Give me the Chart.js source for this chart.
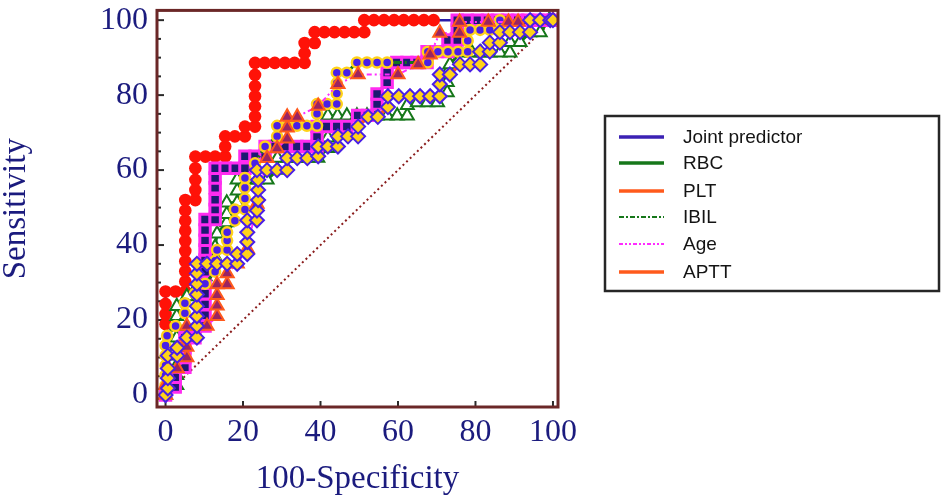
<!DOCTYPE html>
<html>
<head>
<meta charset="utf-8">
<script src="https://cdn.jsdelivr.net/npm/chart.js@4.4.1/dist/chart.umd.min.js"></script>
<style>
  html, body { margin: 0; padding: 0; background: #fff; }
  #wrap { width: 945px; height: 501px; }
</style>
</head>
<body>
<div id="wrap"><canvas id="roc" width="945" height="501"></canvas></div>
<script>
// tick labels
const xTicks = [0, 20, 40, 60, 80, 100];
const yTicks = [0, 20, 40, 60, 80, 100];

// Joint predictor (red circles)
const jointX = [0, 0, 0, 0, 0, 2.6, 5.1, 5.1, 5.1, 5.1, 5.1, 5.1, 5.1, 5.1, 5.1, 5.1, 7.7, 7.7, 7.7, 7.7, 7.7, 10.3, 12.8, 15.4, 15.4, 15.4, 17.9, 20.5, 20.5, 23.1, 23.1, 23.1, 23.1, 23.1, 23.1, 23.1, 25.6, 28.2, 30.8, 33.3, 35.9, 35.9, 35.9, 38.5, 38.5, 41.0, 43.6, 46.2, 48.7, 51.3, 51.3, 53.8, 56.4, 59.0, 61.5, 64.1, 66.7, 69.2, 100];
const jointY = [0, 18.9, 21.6, 24.3, 27.6, 27.6, 27.6, 30.3, 33.0, 35.7, 38.4, 41.1, 43.8, 46.5, 49.2, 52.0, 52.0, 54.7, 57.4, 60.5, 63.6, 63.6, 63.6, 63.6, 66.3, 69.0, 69.0, 69.0, 71.6, 71.6, 74.3, 77.0, 79.7, 82.4, 85.4, 88.6, 88.6, 88.6, 88.6, 88.6, 88.6, 91.2, 93.9, 93.9, 96.8, 96.8, 96.8, 96.8, 96.8, 96.8, 100, 100, 100, 100, 100, 100, 100, 100, 100];

// RBC (open green triangles)
const rbcX = [0, 2.9, 2.9, 2.9, 2.9, 2.9, 2.9, 2.9, 2.9, 2.9, 5.5, 8.1, 10.2, 10.2, 12.8, 12.8, 13.3, 15.8, 15.8, 15.8, 18.5, 18.5, 18.5, 21.0, 23.6, 26.2, 28.9, 28.9, 31.5, 34.1, 36.7, 39.3, 41.9, 41.9, 41.9, 41.9, 44.4, 46.8, 49.4, 52.0, 54.6, 57.2, 59.8, 62.4, 62.4, 65.0, 67.6, 70.2, 72.7, 72.7, 72.7, 73.4, 76.0, 79.1, 81.4, 83.7, 86.3, 88.9, 88.9, 91.5, 94.1, 96.7, 99.0, 100];
const rbcY = [0, 2.6, 5.3, 7.9, 10.5, 13.1, 15.3, 18.4, 21.0, 23.7, 26.3, 28.9, 31.6, 34.2, 36.8, 39.5, 43.0, 46.0, 48.2, 51.3, 51.3, 54.5, 57.4, 57.4, 57.4, 57.4, 60.0, 63.2, 63.2, 63.2, 63.2, 63.2, 65.8, 68.6, 71.5, 74.5, 74.5, 74.5, 74.5, 74.5, 74.5, 74.5, 74.5, 74.5, 77.3, 78.0, 78.0, 78.0, 80.7, 83.4, 86.0, 88.2, 91.3, 91.3, 91.3, 91.3, 91.3, 91.3, 94.1, 94.1, 96.7, 96.7, 100, 100];

// PLT (magenta squares)
const pltX = [0, 2.5, 2.5, 5.0, 5.0, 5.0, 5.0, 7.6, 10.2, 10.2, 10.2, 10.2, 10.2, 10.2, 10.2, 10.2, 10.2, 10.2, 10.2, 12.8, 12.8, 12.8, 12.8, 12.8, 12.8, 15.4, 18.0, 20.5, 20.5, 23.1, 25.7, 25.7, 28.3, 30.8, 33.9, 36.5, 39.1, 39.1, 39.1, 41.6, 44.2, 46.8, 49.6, 52.1, 54.6, 54.6, 57.2, 57.2, 59.7, 62.3, 64.9, 67.5, 67.5, 70.1, 72.9, 72.9, 75.3, 75.3, 75.3, 77.9, 80.5, 83.1, 85.7, 88.3, 90.9, 93.5, 96.1, 98.7, 100];
const pltY = [0, 2.1, 4.7, 7.4, 10.0, 12.6, 15.3, 15.3, 18.4, 21.3, 24.2, 27.0, 30.3, 32.9, 36.0, 38.7, 41.3, 44.0, 46.8, 46.8, 49.5, 52.1, 55.3, 57.9, 60.5, 60.5, 60.5, 60.5, 63.7, 63.7, 63.7, 66.3, 66.3, 66.3, 66.3, 66.3, 66.3, 69.0, 71.6, 71.6, 71.6, 71.6, 74.6, 74.6, 77.6, 80.3, 83.4, 86.0, 88.7, 88.7, 88.7, 88.7, 91.6, 91.6, 91.6, 94.7, 94.7, 97.4, 100, 100, 100, 100, 100, 100, 100, 100, 100, 100, 100];

// IBIL (blue circles, yellow rim)
const ibilX = [0, 0, 0, 0, 0, 0, 0.4, 2.6, 5.0, 5.0, 7.6, 10.2, 12.8, 12.8, 13.3, 15.9, 15.9, 15.9, 17.9, 17.9, 20.5, 20.5, 20.5, 20.5, 23.1, 25.7, 28.8, 28.8, 31.4, 33.9, 36.5, 39.1, 39.1, 39.1, 41.7, 44.2, 44.2, 44.2, 44.2, 46.8, 49.4, 52.0, 54.6, 57.2, 67.7, 67.7, 70.3, 72.9, 75.5, 78.0, 78.0, 78.6, 81.2, 83.7, 86.3, 86.3, 100];
const ibilY = [0, 2.6, 5.3, 7.9, 10.5, 13.2, 15.8, 18.4, 21.8, 24.5, 27.1, 29.7, 32.9, 35.8, 38.7, 38.7, 41.2, 43.4, 46.5, 49.5, 49.5, 52.4, 55.3, 57.9, 61.8, 66.3, 69.0, 71.8, 71.8, 71.8, 71.8, 71.8, 75.0, 77.6, 77.6, 77.6, 80.4, 83.2, 86.0, 86.0, 88.7, 88.7, 88.7, 88.7, 88.7, 91.6, 91.6, 91.6, 91.6, 91.6, 94.5, 97.4, 97.4, 97.4, 97.4, 100, 100];

// Age (orange-rimmed dark red triangles)
const ageX = [0, 0, 3.0, 5.5, 5.5, 5.5, 5.5, 8.1, 10.7, 13.3, 13.3, 13.3, 13.3, 15.9, 15.9, 18.5, 21.1, 23.6, 26.2, 28.8, 31.4, 31.4, 31.4, 34.0, 39.4, 44.5, 49.7, 60.0, 65.2, 68.3, 70.8, 75.9, 75.9, 83.3, 88.5, 91.0, 100];
const ageY = [0, 2.6, 7.1, 10.0, 12.8, 15.6, 18.4, 18.4, 18.4, 21.0, 23.8, 26.6, 29.5, 29.5, 32.4, 35.0, 39.0, 51.0, 63.2, 65.8, 68.4, 71.3, 74.2, 74.2, 77.1, 82.9, 85.5, 85.5, 88.2, 90.8, 96.6, 96.6, 99.5, 99.5, 99.5, 99.5, 100];

// APTT (yellow diamonds)
const apttX = [0, 0.6, 0.6, 0.6, 0.6, 3.0, 3.0, 5.5, 8.1, 8.1, 8.1, 8.1, 8.1, 8.1, 8.1, 8.1, 10.7, 13.3, 15.9, 18.5, 18.5, 21.1, 21.1, 21.1, 21.1, 23.6, 23.6, 23.9, 23.9, 23.9, 23.6, 26.2, 28.8, 31.4, 31.4, 34.0, 36.6, 39.4, 39.4, 41.9, 44.5, 44.5, 47.1, 49.7, 49.7, 52.3, 54.8, 57.4, 57.4, 60.2, 63.1, 65.7, 68.3, 70.8, 70.8, 70.8, 73.4, 76.0, 78.6, 81.2, 81.2, 83.7, 83.7, 86.3, 86.3, 88.9, 91.5, 94.1, 94.1, 96.7, 99.3, 100];
const apttY = [0, 1.8, 4.5, 7.1, 10.5, 10.5, 12.6, 15.3, 15.3, 18.4, 21.0, 23.7, 26.8, 29.6, 32.4, 35.0, 35.0, 35.0, 35.0, 35.0, 37.6, 37.6, 40.8, 43.4, 46.6, 46.6, 49.2, 52.0, 54.7, 57.4, 60.0, 60.0, 60.0, 60.0, 63.2, 63.2, 63.2, 63.7, 66.3, 66.3, 66.3, 69.0, 69.0, 69.0, 71.6, 74.2, 74.2, 76.8, 79.7, 79.7, 79.7, 79.7, 79.7, 79.7, 82.9, 85.5, 85.5, 88.2, 88.2, 88.2, 91.6, 91.6, 94.0, 94.0, 96.8, 96.8, 96.8, 96.8, 100, 100, 100, 100];

// reference diagonal
const diagX = [0, 100];
const diagY = [0, 100];

const pts = (xs, ys) => xs.map((x, i) => ({ x: x, y: ys[i] }));
const navyText = '#1b1b7e';
const serif = 'Liberation Serif, Times New Roman, serif';

const tickPlugin = {
  id: 'innerTicks',
  beforeDatasetsDraw(chart) {
    const { ctx, chartArea: a, scales } = chart;
    ctx.save();
    ctx.strokeStyle = '#2a2a2a';
    ctx.lineWidth = 2;
    for (let v = 0; v <= 100; v += 5) {
      const py = scales.y.getPixelForValue(v);
      const len = v % 20 === 0 ? 7 : 4;
      ctx.beginPath(); ctx.moveTo(a.left, py); ctx.lineTo(a.left + len, py); ctx.stroke();
    }
    xTicks.forEach(v => {
      const px = scales.x.getPixelForValue(v);
      ctx.beginPath(); ctx.moveTo(px, a.bottom); ctx.lineTo(px, a.bottom - 6); ctx.stroke();
    });
    ctx.restore();
  },
  afterDatasetsDraw(chart) {
    const { ctx, chartArea: a } = chart;
    ctx.save();
    ctx.strokeStyle = '#6b2727';
    ctx.lineWidth = 3;
    ctx.strokeRect(a.left, a.top, a.right - a.left, a.bottom - a.top);
    ctx.restore();
  }
};

const legendPlugin = {
  id: 'boxLegend',
  afterDraw(chart) {
    const ctx = chart.ctx;
    const rows = [137, 163, 191, 217, 244, 272];
    ctx.save();
    ctx.strokeStyle = '#262626';
    ctx.lineWidth = 2.5;
    ctx.strokeRect(605, 116, 334, 175);
    chart.data.datasets.slice(0, 6).forEach((ds, i) => {
      const y = rows[i];
      ctx.beginPath();
      ctx.setLineDash(ds.legendDash || []);
      ctx.lineWidth = ds.legendDash ? 2 : 3.5;
      ctx.strokeStyle = ds.legendColor || ds.borderColor;
      ctx.moveTo(619, y); ctx.lineTo(664, y);
      ctx.stroke();
      ctx.setLineDash([]);
      ctx.fillStyle = '#141414';
      ctx.font = '19px Liberation Sans, Arial, sans-serif';
      ctx.textBaseline = 'middle';
      ctx.fillText(ds.label, 683, y + 1);
    });
    ctx.restore();
  }
};

new Chart(document.getElementById('roc'), {
  type: 'scatter',
  data: {
    datasets: [
      { label: 'Joint predictor', data: pts(jointX, jointY), showLine: true, order: 6,
        borderColor: '#2a1aa8', legendColor: '#3b22b4', borderWidth: 2.5,
        pointStyle: 'circle', pointRadius: 6.3, pointBackgroundColor: '#ff1208', pointBorderColor: '#ff1208', pointBorderWidth: 0 },
      { label: 'RBC', data: pts(rbcX, rbcY), showLine: true, order: 5,
        borderColor: '#16771a', borderWidth: 3,
        pointStyle: 'triangle', pointRadius: 7.5, pointBackgroundColor: '#ffffff', pointBorderColor: '#16771a', pointBorderWidth: 2 },
      { label: 'PLT', data: pts(pltX, pltY), showLine: true, order: 4,
        borderColor: '#ff5a1c', borderWidth: 3.5,
        pointStyle: 'rect', pointRadius: 7.4, pointBackgroundColor: '#1d1a72', pointBorderColor: '#ff2cf0', pointBorderWidth: 3 },
      { label: 'IBIL', data: pts(ibilX, ibilY), showLine: true, order: 3,
        borderColor: '#16771a', borderWidth: 3, borderDash: [8, 3, 2, 3], legendDash: [5, 2, 2, 2],
        pointStyle: 'circle', pointRadius: 5, pointBackgroundColor: '#4a1fe6', pointBorderColor: '#ffd21a', pointBorderWidth: 2.5 },
      { label: 'Age', data: pts(ageX, ageY), showLine: true, order: 2,
        borderColor: '#ff2cff', borderWidth: 2, borderDash: [5, 3, 2, 3, 2, 3], legendDash: [4, 2, 2, 2, 2, 2],
        pointStyle: 'triangle', pointRadius: 7.6, pointBackgroundColor: '#9a2462', pointBorderColor: '#ff5a1c', pointBorderWidth: 2 },
      { label: 'APTT', data: pts(apttX, apttY), showLine: true, order: 1,
        borderColor: '#ff5a1c', borderWidth: 3.5,
        pointStyle: 'rectRot', pointRadius: 7, pointBackgroundColor: '#ffd21a', pointBorderColor: '#4a1fe6', pointBorderWidth: 2 },
      { label: 'Reference', data: pts(diagX, diagY), showLine: true, order: 7,
        borderColor: '#8a1c1c', borderWidth: 2, borderDash: [2, 3], pointRadius: 0 }
    ]
  },
  options: {
    responsive: false,
    animation: false,
    layout: { padding: { left: 0, top: 5, right: 387, bottom: 0 } },
    plugins: { legend: { display: false }, tooltip: { enabled: false } },
    scales: {
      x: {
        type: 'linear', min: -2.2, max: 101.3,
        afterBuildTicks: s => { s.ticks = xTicks.map(v => ({ value: v })); },
        afterFit: s => { s.height = 94; s.paddingLeft = 0; s.paddingRight = 0; },
        grid: { display: false, drawTicks: false },
        border: { display: false },
        ticks: { color: navyText, font: { family: serif, size: 32 }, padding: 6, maxRotation: 0, autoSkip: false },
        title: { display: true, text: '100-Specificity', color: navyText,
                 font: { family: serif, size: 33, lineHeight: 1 }, padding: { top: 0, bottom: 5 } }
      },
      y: {
        type: 'linear', min: -3.2, max: 102.6,
        afterBuildTicks: s => { s.ticks = yTicks.map(v => ({ value: v })); },
        afterFit: s => { s.width = 157; s.paddingTop = 0; s.paddingBottom = 0; },
        grid: { display: false, drawTicks: false },
        border: { display: false },
        ticks: { color: navyText, font: { family: serif, size: 32 }, padding: 9, autoSkip: false },
        title: { display: true, text: 'Sensitivity', color: navyText,
                 font: { family: serif, size: 33, lineHeight: 1 }, padding: 0 }
      }
    }
  },
  plugins: [tickPlugin, legendPlugin]
});
</script>
</body>
</html>
